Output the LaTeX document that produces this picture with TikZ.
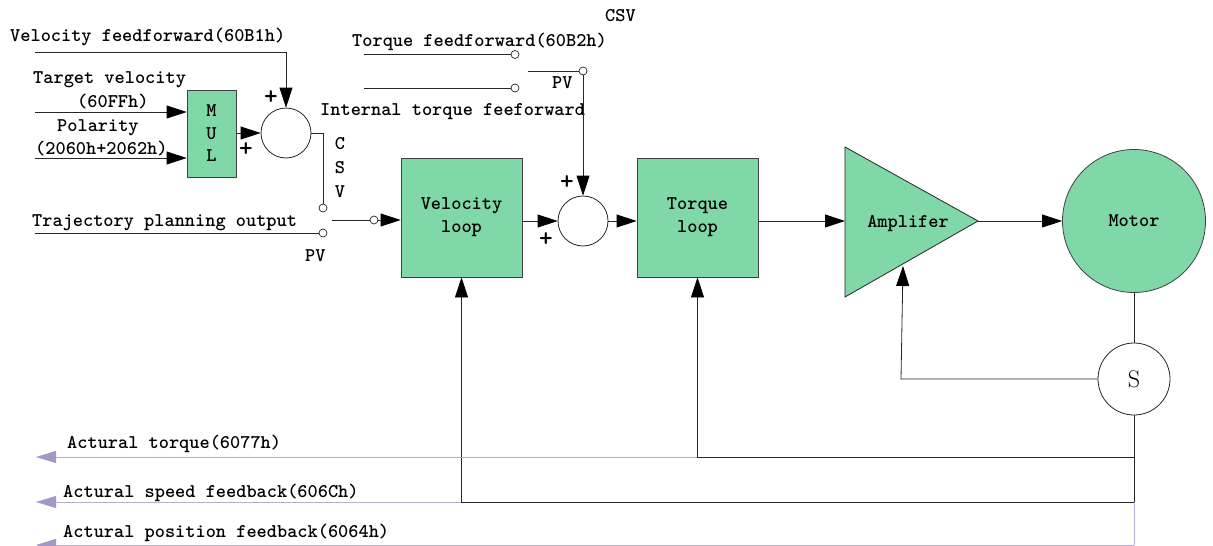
\documentclass[tikz,border=0pt]{standalone}
\usetikzlibrary{arrows.meta}
\definecolor{boxgreen}{RGB}{128,216,168}
\definecolor{fbpurple}{RGB}{184,172,214}
\definecolor{tippurple}{RGB}{165,150,200}
\begin{document}
\begin{tikzpicture}[x=1pt,y=-1pt,
  line/.style={draw=black!85, line width=0.8pt},
  arr/.style={line, -{Triangle[length=20pt,width=13pt,color=black,fill=black]}},
  parr/.style={draw=fbpurple, line width=0.8pt, -{Triangle[length=20pt,width=12pt,color=tippurple,fill=tippurple]}},
  txt/.style={font=\fontsize{19.4}{23}\selectfont\ttfamily\bfseries, inner sep=0pt},
  lbl/.style={txt, anchor=base west},
  plus/.style={inner sep=0pt, font=\fontsize{26}{28}\selectfont\ttfamily\bfseries},
  blk/.style={txt, draw=black!75, fill=boxgreen, line width=0.8pt, align=center},
  sum/.style={circle, draw=black!85, line width=0.8pt, minimum size=50pt, inner sep=0pt},
  contact/.style={circle, draw=black!85, fill=white, line width=0.7pt, minimum size=8pt, inner sep=0pt},
]
\useasboundingbox (0,0) rectangle (1213,546);

% ---- blocks ----
\node[blk, minimum width=49pt, minimum height=87pt, font=\fontsize{19.4}{22.5}\selectfont\ttfamily\bfseries] (mul) at (211.5,133.5) {M\\U\\L};
\node[sum] (s1) at (286,133) {};
\node[blk, minimum width=121pt, minimum height=119pt] (vel) at (461.5,217.5) {Velocity\\loop};
\node[sum] (s2) at (583,221) {};
\node[blk, minimum width=121pt, minimum height=119pt] (tor) at (697.5,217.5) {Torque\\loop};
\draw[line, fill=boxgreen] (845,147) -- (978,221) -- (845,297) -- cycle;
\coordinate (ampL) at (845,221);
\coordinate (ampT) at (978,221);
\coordinate (ampB) at (903,266);
\node[txt] (amptxt) at (908,224) {Amplifer};
\node[blk, circle, minimum size=143pt] (motor) at (1134,221) {Motor};
\node[circle, draw=black!85, line width=0.8pt, fill=white, minimum size=72pt, inner sep=0pt, font=\fontsize{24}{26}\selectfont\rmfamily] (sens) at (1134,379) {S};

% ---- contacts ----
\node[contact] (c1) at (323,208) {};
\node[contact] (c2) at (323,233) {};
\node[contact] (c3) at (374,220) {};
\node[contact] (t1) at (515,54.5) {};
\node[contact] (t2) at (515,88) {};
\node[contact] (t3) at (583,71) {};

% ---- labels ----
\node[lbl] (l1) at (10,41) {Velocity feedforward(60B1h)};
\node[lbl] (l2) at (33,83.5) {Target velocity};
\node[lbl] (l3) at (77,107.3) {(60FFh)};
\node[lbl] (l4) at (57,131) {Polarity};
\node[lbl] (l5) at (35,154) {(2060h+2062h)};
\node[lbl] (l6) at (32,226.7) {Trajectory planning output};
\node[lbl] (l7) at (305,261.7) {PV};
\node[txt, align=center, font=\fontsize{19.4}{24}\selectfont\ttfamily\bfseries] (csv1) at (340,168) {C\\S\\V};
\node[lbl] (l8) at (605,21) {CSV};
\node[lbl] (l9) at (352,46) {Torque feedforward(60B2h)};
\node[lbl] (l10) at (552,88) {PV};
\node[lbl] (l11) at (320,115) {Internal torque feeforward};
\node[plus] (p1) at (271,98) {+};
\node[plus] (p2) at (246,150) {+};
\node[plus] (p3) at (567,183) {+};
\node[plus] (p4) at (546,240) {+};
\node[lbl] (l12) at (67,448) {Actural torque(6077h)};
\node[lbl] (l13) at (63,497) {Actural speed feedback(606Ch)};
\node[lbl] (l14) at (63,537) {Actural position feedback(6064h)};

% ---- free ends ----
\coordinate (vffin) at (35,52);
\coordinate (tvin) at (35,112);
\coordinate (polin) at (35,158);
\coordinate (trin) at (35,233);
\coordinate (swarm) at (332,220);
\coordinate (tffin) at (364,54.5);
\coordinate (itfin) at (364,88);
\coordinate (tswarm) at (528,71);
\coordinate (ampfb) at (901,379);
\coordinate (j1) at (1134,457);
\coordinate (j2) at (1134,502);
\coordinate (j3) at (1134,545);
\coordinate (k1) at (697,457);
\coordinate (k2) at (461,502);
\coordinate (e1) at (36,457);
\coordinate (e2) at (36,502);
\coordinate (e3) at (36,545);

% ---- connectors ----
\draw[arr] (vffin) -| (s1.north);
\draw[arr] (tvin) -- (tvin -| mul.west);
\draw[arr] (polin) -- (polin -| mul.west);
\draw[arr] (mul.east |- s1) -- (s1.west);
\draw[line] (s1.east) -| (c1.north);
\draw[line] (trin) -- (c2.west);
\draw[line] (swarm) -- (c3.west);
\draw[arr] (c3.east) -- (c3 -| vel.west);
\draw[arr] (vel.east |- s2) -- (s2.west);
\draw[arr] (s2.east) -- (s2 -| tor.west);
\draw[arr] (tor.east |- ampL) -- (ampL);
\draw[arr] (ampT) -- (motor.west);
\draw[line] (tffin) -- (t1.west);
\draw[line] (itfin) -- (t2.west);
\draw[line] (tswarm) -- (t3.west);
\draw[arr] (t3.south) -- (s2.north);
\draw[line] (motor.south) -- (sens.north);
\draw[arr] (sens.west) -- (ampfb) -- (ampB);
\draw[line] (sens.south) -- (j2);
\draw[arr] (j1) -| (tor.south);
\draw[arr] (j2) -| (vel.south);
\draw[parr] (k1) -- (e1);
\draw[parr] (k2) -- (e2);
\draw[draw=fbpurple, line width=0.8pt] (j2) -- (j3);
\draw[parr] (j3) -- (e3);
\end{tikzpicture}
\end{document}
